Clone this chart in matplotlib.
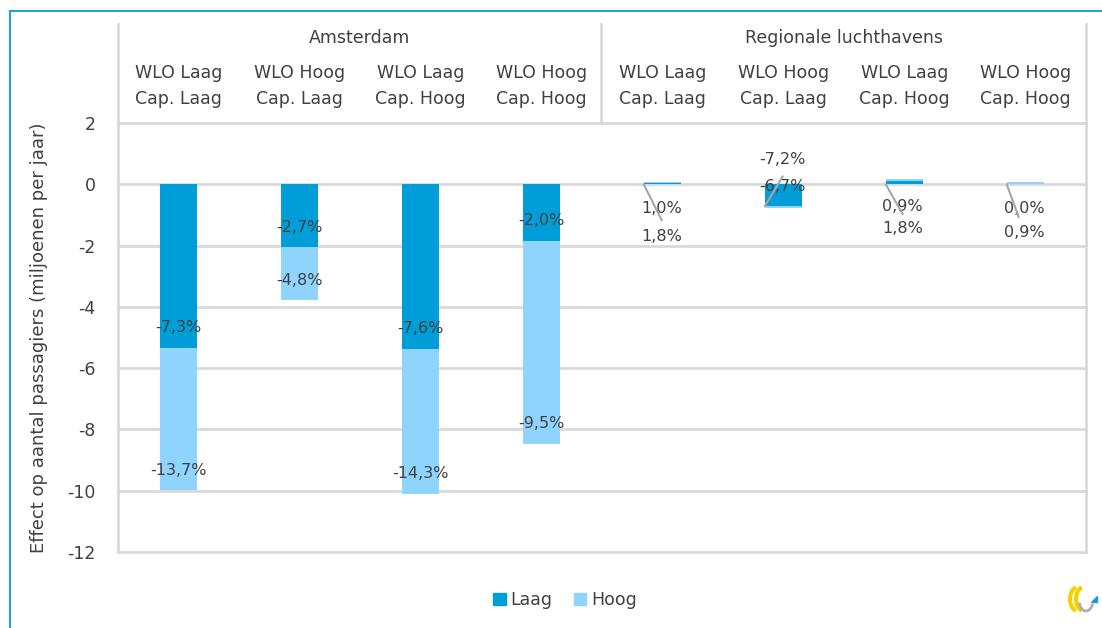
import numpy as np
import matplotlib.pyplot as plt
from matplotlib.lines import Line2D
from matplotlib.patches import Patch, Arc, Polygon

groups = ['Amsterdam', 'Regionale luchthavens']
categories = ['WLO Laag\nCap. Laag', 'WLO Hoog\nCap. Laag', 'WLO Laag\nCap. Hoog', 'WLO Hoog\nCap. Hoog'] * 2
laag = [-5.33, -2.05, -5.37, -1.85, 0.05, -0.72, 0.10, 0.01]
hoog = [-4.66, -1.73, -4.73, -6.62, 0.03, -0.04, 0.08, 0.06]
laag_labels = ['-7,3%', '-2,7%', '-7,6%', '-2,0%', '1,0%', '-6,7%', '0,9%', '0,0%']
hoog_labels = ['-13,7%', '-4,8%', '-14,3%', '-9,5%', '1,8%', '-7,2%', '1,8%', '0,9%']

c_laag = '#009ed8'
c_hoog = '#8fd3ff'
txt = '#404040'
grid = '#d9d9d9'

plt.rcParams['font.family'] = ['DejaVu Sans']
plt.rcParams['axes.unicode_minus'] = False
fig = plt.figure(figsize=(11.02, 6.28), dpi=100)
W, H = 1102, 628
ax = fig.add_axes([118 / W, (H - 552) / H, 968 / W, (552 - 123) / H])

x = np.arange(len(categories))
bw = 0.31
ax.bar(x, laag, bw, color=c_laag, zorder=3)
ax.bar(x, hoog, bw, bottom=laag, color=c_hoog, zorder=3)

ax.set_xlim(-0.5, 7.5)
ax.set_ylim(-12, 2)
ax.set_yticks(range(-12, 3, 2))
for yv in range(-12, 3, 2):
    ax.axhline(yv, color=grid, lw=2, zorder=1, clip_on=False)
ax.set_xticks([])
ax.tick_params(axis='y', length=0, labelsize=12.5, colors=txt, pad=16)
for s in ['top', 'bottom']:
    ax.spines[s].set_visible(False)
for s in ['left', 'right']:
    ax.spines[s].set_color(grid)
    ax.spines[s].set_linewidth(2)
ax.set_ylabel('Effect op aantal passagiers (miljoenen per jaar)', fontsize=13, color=txt, labelpad=14)

fs_lab = 11.5
# data labels Amsterdam: inside end of each segment
for i in range(4):
    ax.annotate(laag_labels[i], (x[i], laag[i]), xytext=(0, 20), textcoords='offset pixels',
                ha='center', va='center', fontsize=fs_lab, color=txt, zorder=5)
    ax.annotate(hoog_labels[i], (x[i], laag[i] + hoog[i]), xytext=(0, 20), textcoords='offset pixels',
                ha='center', va='center', fontsize=fs_lab, color=txt, zorder=5)

# regional labels with leader lines (offsets in pixels)
reg_off = {4: [(-1, -24), (-1, -52)], 5: [(-1, -2), (-1, 25)], 6: [(-2, -22), (-2, -44)], 7: [(-1, -24), (-1, -48)]}
line_off = {4: (18, -36), 5: (18, 30), 6: (17, -30), 7: (12, -33)}
for i, ((dx1, dy1), (dx2, dy2)) in reg_off.items():
    ax.annotate(laag_labels[i], (x[i], 0), xytext=(dx1, dy1), textcoords='offset pixels',
                ha='center', va='center', fontsize=fs_lab, color=txt, zorder=5)
    ax.annotate(hoog_labels[i], (x[i], 0), xytext=(dx2, dy2), textcoords='offset pixels',
                ha='center', va='center', fontsize=fs_lab, color=txt, zorder=5)
    y0 = laag[i] if i == 5 else 0
    ax.annotate('', (x[i] - bw / 2, y0), xytext=line_off[i], textcoords='offset pixels',
                arrowprops=dict(arrowstyle='-', color='#a6a6a6', lw=1.5, shrinkA=0, shrinkB=0), zorder=6)

# header with category labels and groups
def fx(px):
    return px / W

def fy(py):
    return (H - py) / H

for px in [118, 601, 1086]:
    fig.add_artist(Line2D([fx(px)] * 2, [fy(24), fy(123)], color=grid, lw=2))
for i, c in enumerate(categories):
    ax.text(x[i], 1.0 + (123 - 86) / 429, c, transform=ax.get_xaxis_transform(), ha='center', va='center',
            fontsize=12.5, color=txt, linespacing=1.55, clip_on=False)
for g, gi in zip(groups, [1.5, 5.5]):
    ax.text(gi, 1.0 + (123 - 38) / 429, g, transform=ax.get_xaxis_transform(), ha='center', va='center',
            fontsize=12.5, color=txt, clip_on=False)

# legend
handles = [Patch(color=c_laag, label='Laag'), Patch(color=c_hoog, label='Hoog')]
fig.legend(handles=handles, loc='center', bbox_to_anchor=(fx(565), fy(600)), ncol=2, frameon=False,
           fontsize=12.5, labelcolor=txt, handlelength=0.7, handleheight=0.7, handletextpad=0.3,
           columnspacing=1.2)

# small logo bottom right
lax = fig.add_axes([1064 / W, (H - 614) / H, 36 / W, 30 / H])
lax.set_xlim(0, 36)
lax.set_ylim(0, 30)
lax.axis('off')
lax.add_patch(Arc((14, 15), 16, 24, theta1=100, theta2=260, color='#f5d000', lw=3))
lax.add_patch(Arc((20, 15), 16, 24, theta1=100, theta2=260, color='#f5d000', lw=3))
lax.add_patch(Arc((22, 14), 14, 22, theta1=200, theta2=330, color='#b0b0b0', lw=2))
lax.add_patch(Polygon([[27, 12], [33, 12], [33, 18]], closed=True, color='#1a9ad6'))

# outer frame
fig.add_artist(Line2D([fx(10), 1], [fy(11), fy(11)], color='#1ea0dc', lw=1.5))
fig.add_artist(Line2D([fx(10), fx(10)], [fy(11), 0], color='#1ea0dc', lw=1.5))

fig.savefig('out.png', dpi=100)
